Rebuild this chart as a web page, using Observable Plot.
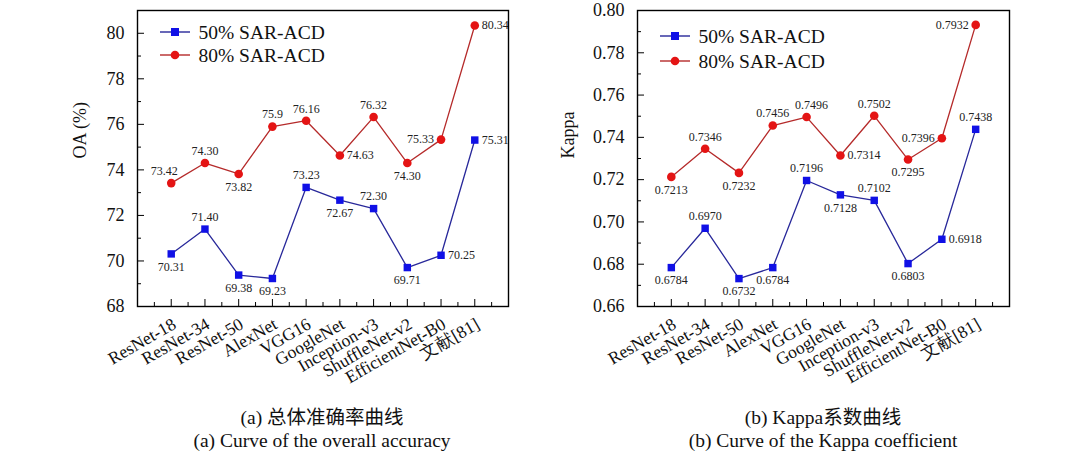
<!DOCTYPE html>
<html><head><meta charset="utf-8">
<script src="https://cdn.jsdelivr.net/npm/d3@7"></script>
<script src="https://cdn.jsdelivr.net/npm/@observablehq/plot@0.6"></script>
<style>
body{margin:0;background:#fff;}
#wrap{position:relative;width:1080px;height:451px;overflow:hidden;font-family:"Liberation Serif",serif;background:#fff;}
.panel{position:absolute;top:0;}
.cap{position:absolute;transform:translateX(-50%);white-space:nowrap;font-size:19.5px;color:#111;line-height:24px;font-family:"Liberation Serif","Noto Sans CJK SC",serif;}
</style></head><body><div id="wrap"></div>
<script>
// ---- data ----
const models = ["ResNet-18","ResNet-34","ResNet-50","AlexNet","VGG16","GoogleNet","Inception-v3","ShuffleNet-v2","EfficientNet-B0","文献[81]"];
const seriesNames = ["50% SAR-ACD","80% SAR-ACD"];
const oa50 = [70.31,71.40,69.38,69.23,73.23,72.67,72.30,69.71,70.25,75.31];
const oa80 = [73.42,74.30,73.82,75.9,76.16,74.63,76.32,74.30,75.33,80.34];
const oa50Labels = ["70.31","71.40","69.38","69.23","73.23","72.67","72.30","69.71","70.25","75.31"];
const oa80Labels = ["73.42","74.30","73.82","75.9","76.16","74.63","76.32","74.30","75.33","80.34"];
const kappa50 = [0.6784,0.6970,0.6732,0.6784,0.7196,0.7128,0.7102,0.6803,0.6918,0.7438];
const kappa80 = [0.7213,0.7346,0.7232,0.7456,0.7496,0.7314,0.7502,0.7295,0.7396,0.7932];
const kappa50Labels = ["0.6784","0.6970","0.6732","0.6784","0.7196","0.7128","0.7102","0.6803","0.6918","0.7438"];
const kappa80Labels = ["0.7213","0.7346","0.7232","0.7456","0.7496","0.7314","0.7502","0.7295","0.7396","0.7932"];
const oaTicks = [68,70,72,74,76,78,80];
const oaMinor = [69,71,73,75,77,79];
const kappaTicks = [0.66,0.68,0.70,0.72,0.74,0.76,0.78,0.80];
const kappaMinor = [0.67,0.69,0.71,0.73,0.75,0.77,0.79];
const captions = [
  ["(a) 总体准确率曲线","(a) Curve of the overall accuracy"],
  ["(b) Kappa系数曲线","(b) Curve of the Kappa coefficient"]
];

// ---- label placement (layout) ----
const oa50Pos = ["s","n","s","s","n","s","n","s","e","e"];
const oa80Pos = ["nw","n","s","n","n","e","n","s","w","e"];
const k50Pos = ["s","n","s","s","n","s","n","s","e","n"];
const k80Pos = ["s","n","s","n","ne","e","n","s","w","w"];

const C = {blueLine:"#28289a", blueDot:"#1010e6", redLine:"#b52a2a", redDot:"#e41414"};
const SERIF = "Liberation Serif, serif";

function panel(o) {
  const W = 540, H = 400, mt = 10, mb = 94;
  const ph = H - mt - mb, pw = W - o.ml - o.mr;
  const rows = (vals, txt, pos, s) => vals.map((v, i) => ({i: i + 1, v, t: txt[i], p: pos[i], s}));
  const r50 = rows(o.y50, o.t50, o.p50, 0), r80 = rows(o.y80, o.t80, o.p80, 1);
  const all = r50.concat(r80);
  const off = {n:[0,-12,"middle"], s:[0,13,"middle"], e:[7,0,"start"], w:[-7,0,"end"], nw:[-7,-12,"middle"], ne:[5,-12,"middle"]};
  const labelMarks = Object.entries(off).map(([k, [dx, dy, ta]]) =>
    Plot.text(all.filter(d => d.p === k), {x: "i", y: "v", text: "t", dx, dy, textAnchor: ta, fontSize: 12, fill: "#222"}));
  const legendText = seriesNames.map((name, k) =>
    Plot.text([name], {frameAnchor: "top-left", text: d => d, dx: 61, dy: o.leg.y + k * o.leg.dy - mt,
      textAnchor: "start", lineAnchor: "middle", fontSize: 19.5, fontFamily: "serif", fill: "#111"}));
  const xs = d3.range(1, 11), xm = d3.range(0.5, 11, 1);
  const svg = Plot.plot({
    width: W, height: H, marginTop: mt, marginBottom: mb, marginLeft: o.ml, marginRight: o.mr,
    style: {fontFamily: SERIF, background: "transparent", overflow: "visible"},
    x: {domain: [0, 11], axis: null},
    y: {domain: o.domain, axis: null},
    marks: [
      Plot.ruleX(xs, {x: d => d, insetTop: ph - 7, stroke: "#000", strokeWidth: 1}),
      Plot.ruleX(xm, {x: d => d, insetTop: ph - 4, stroke: "#000", strokeWidth: 1}),
      Plot.ruleY(o.ticks, {y: d => d, insetRight: pw - 7, stroke: "#000", strokeWidth: 1}),
      Plot.ruleY(o.minor, {y: d => d, insetRight: pw - 4, stroke: "#000", strokeWidth: 1}),
      Plot.text(o.ticks, {y: d => d, frameAnchor: "left", text: o.fmt, dx: -13, textAnchor: "end", fontSize: 18, fill: "#111"}),
      Plot.text([o.ylabel], {frameAnchor: "left", text: d => d, rotate: -90, dx: o.ylabelDx, fontSize: 18, fill: "#111"}),
      Plot.text(models, {x: (d, i) => i + 1, frameAnchor: "bottom", text: d => d, rotate: -30, textAnchor: "end", dx: 6, dy: 21, fontSize: 17.5, fill: "#111"}),
      Plot.line(r50, {x: "i", y: "v", stroke: C.blueLine, strokeWidth: 1.3}),
      Plot.line(r80, {x: "i", y: "v", stroke: C.redLine, strokeWidth: 1.3}),
      Plot.dot(r50, {x: "i", y: "v", symbol: "square", r: 4.2, fill: C.blueDot, stroke: "none"}),
      Plot.dot(r80, {x: "i", y: "v", symbol: "circle", r: 4.3, fill: C.redDot, stroke: "none"}),
      ...labelMarks,
      ...legendText,
      Plot.frame({stroke: "#000", strokeWidth: 1.4})
    ]
  });
  // legend symbols
  const g = d3.select(svg).append("g");
  [[C.blueLine, C.blueDot, "square"], [C.redLine, C.redDot, "circle"]].forEach(([lc, dc, sym], k) => {
    const y = o.leg.y + k * o.leg.dy;
    const x0 = o.ml + 23;
    g.append("path").attr("d", `M${x0},${y}H${x0 + 30}`).attr("fill", "none").attr("stroke", lc).attr("stroke-width", 1.4);
    if (sym === "square") g.append("rect").attr("x", x0 + 11).attr("y", y - 4).attr("width", 8).attr("height", 8).attr("fill", dc);
    else g.append("circle").attr("cx", x0 + 15).attr("cy", y).attr("r", 4.3).attr("fill", dc);
  });
  return svg;
}

const wrap = document.getElementById("wrap");
const cfg = [
  {y50: oa50, y80: oa80, t50: oa50Labels, t80: oa80Labels, p50: oa50Pos, p80: oa80Pos,
   domain: [68, 81], ticks: oaTicks, minor: oaMinor, fmt: d => String(d), ylabel: "OA (%)", ylabelDx: -57,
   ml: 137, mr: 32, leg: {y: 32, dy: 23}},
  {y50: kappa50, y80: kappa80, t50: kappa50Labels, t80: kappa80Labels, p50: k50Pos, p80: k80Pos,
   domain: [0.66, 0.80], ticks: kappaTicks, minor: kappaMinor, fmt: d3.format(".2f"), ylabel: "Kappa", ylabelDx: -69,
   ml: 97, mr: 71, leg: {y: 36, dy: 25}}
];
cfg.forEach((o, k) => {
  const d = document.createElement("div");
  d.className = "panel"; d.style.left = (k * 540) + "px";
  d.appendChild(panel(o)); wrap.appendChild(d);
});
const capX = [322, 823];
captions.forEach((lines, k) => {
  lines.forEach((t, j) => {
    const d = document.createElement("div");
    d.className = "cap"; d.style.left = capX[k] + "px"; d.style.top = (406 + j * 23) + "px";
    d.textContent = t; wrap.appendChild(d);
  });
});
</script></body></html>
